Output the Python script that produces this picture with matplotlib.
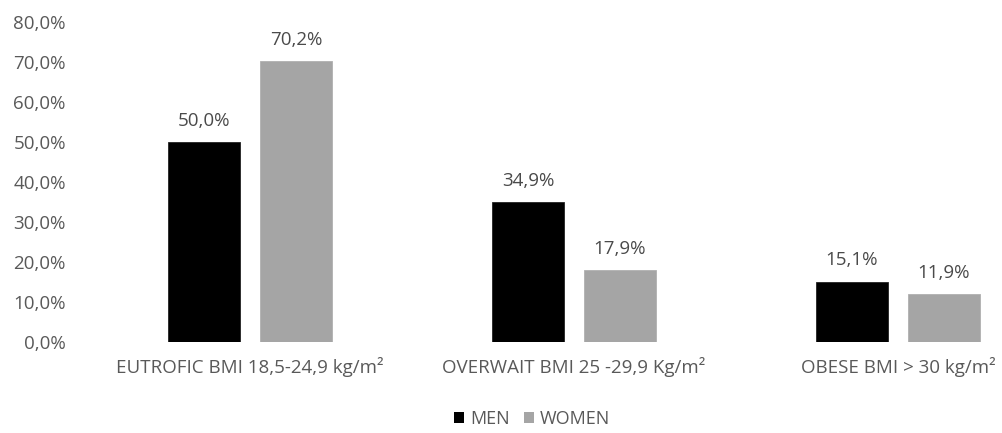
import matplotlib
matplotlib.use("Agg")
import matplotlib.pyplot as plt
from matplotlib.patches import Patch
import numpy as np

categories = ["EUTROFIC BMI 18,5-24,9 kg/m²",
              "OVERWAIT BMI 25 -29,9 Kg/m²",
              "OBESE BMI > 30 kg/m²"]
men = [50.0, 34.9, 15.1]
women = [70.2, 17.9, 11.9]
yticks = [0, 10, 20, 30, 40, 50, 60, 70, 80]

plt.rcParams['font.family'] = ['Open Sans', 'DejaVu Sans']
text_color = "#595959"
fs = 13.5

fig = plt.figure(figsize=(10.03, 4.33), dpi=100)
W, H = 1003, 433
ax = fig.add_axes([88 / W, 1 - 342 / H, (1003 - 88) / W, (342 - 22) / H])

x = np.arange(len(categories))
bw = 0.225
off = (bw + 0.059) / 2
b1 = ax.bar(x - off, men, bw, color="#000000", edgecolor="#222222", linewidth=0.6)
b2 = ax.bar(x + off, women, bw, color="#a5a5a5", edgecolor="#b0b0b0", linewidth=0.6)

for bars, vals in ((b1, men), (b2, women)):
    for r, v in zip(bars, vals):
        ax.annotate(f"{v:.1f}%".replace(".", ","),
                    (r.get_x() + r.get_width() / 2, v),
                    xytext=(0, 9), textcoords="offset points",
                    ha="center", va="bottom", fontsize=fs, color="#4a4a4a")

ax.set_xlim(-0.5, (1003 - 250) / 324)
ax.set_ylim(0, 80)
ax.set_yticks(yticks)
ax.set_yticklabels([f"{t:.1f}%".replace(".", ",") for t in yticks])
ax.set_xticks(x)
ax.set_xticklabels(categories)
ax.tick_params(axis="both", length=0, labelsize=fs, colors=text_color)
ax.tick_params(axis="y", pad=16)
ax.tick_params(axis="x", pad=11)
for s in ax.spines.values():
    s.set_visible(False)

handles = [Patch(facecolor="#000000", label="MEN"),
           Patch(facecolor="#a5a5a5", label="WOMEN")]
fig.legend(handles=handles, loc="center", bbox_to_anchor=(532 / W, 1 - 419 / H),
           ncol=2, frameon=False, fontsize=13, labelcolor=text_color,
           handlelength=0.55, handleheight=0.55, handletextpad=0.3, columnspacing=0.8)

fig.savefig("out.png", dpi=100)
